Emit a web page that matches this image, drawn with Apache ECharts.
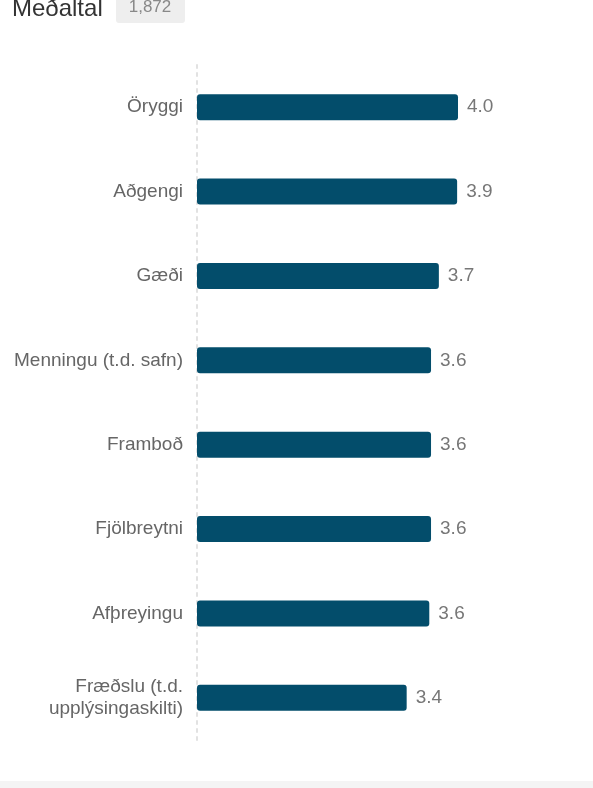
<!DOCTYPE html>
<html>
<head>
<meta charset="utf-8">
<script src="https://cdn.jsdelivr.net/npm/echarts@6/dist/echarts.min.js"></script>
<style>
html,body{margin:0;padding:0;background:#fff;}
#c{width:593px;height:788px;}
</style>
</head>
<body>
<div id="c"></div>
<script>
const categories = ["Öryggi","Aðgengi","Gæði","Menningu (t.d. safn)","Framboð","Fjölbreytni","Afþreyingu","Fræðslu (t.d.\nupplýsingaskilti)"];
const values = [4.00, 3.99, 3.78, 3.69, 3.69, 3.69, 3.67, 3.41];
const titleText = "Meðaltal";
const countText = "1,872";
const scaleMin = 1;
const scaleMax = 5;

const FONT = '"Liberation Sans", Arial, sans-serif';
const chart = echarts.init(document.getElementById('c'), null, {renderer:'canvas'});
chart.setOption({
  animation:false,
  backgroundColor:'#fff',
  graphic:[
    {type:'text', x:12, y:9, style:{text:titleText, font:'24px ' + FONT, fill:'#333', textAlign:'left', textVerticalAlign:'middle'}},
    {type:'rect', x:116, y:-5, shape:{width:69, height:28, r:3}, style:{fill:'#eeeeee'}},
    {type:'text', x:150, y:7.5, style:{text:countText, font:'17px ' + FONT, fill:'#888', textAlign:'center', textVerticalAlign:'middle'}},
    {type:'rect', x:0, y:781, shape:{width:593, height:7}, style:{fill:'#f4f4f4'}}
  ],
  grid:{left:197, right:48, top:65, bottom:48, containLabel:false},
  xAxis:{type:'value', min:scaleMin, max:scaleMax, show:false, splitLine:{show:false}},
  yAxis:{type:'category', data:categories, inverse:true,
    axisLine:{show:true, lineStyle:{color:'#e2e2e2', width:2, type:[3,5]}},
    axisTick:{show:false},
    axisLabel:{color:'#666', fontSize:19, fontFamily:FONT, margin:14, lineHeight:22, align:'right'}
  },
  series:[{
    type:'bar', data:values, barWidth:26,
    itemStyle:{color:'#034d6b', borderRadius:3},
    label:{show:true, position:'right', distance:9, color:'#777', fontSize:19, fontFamily:FONT,
      formatter:p=>(Math.floor(p.value*10+1e-9)/10).toFixed(1)}
  }]
});
</script>
</body>
</html>
